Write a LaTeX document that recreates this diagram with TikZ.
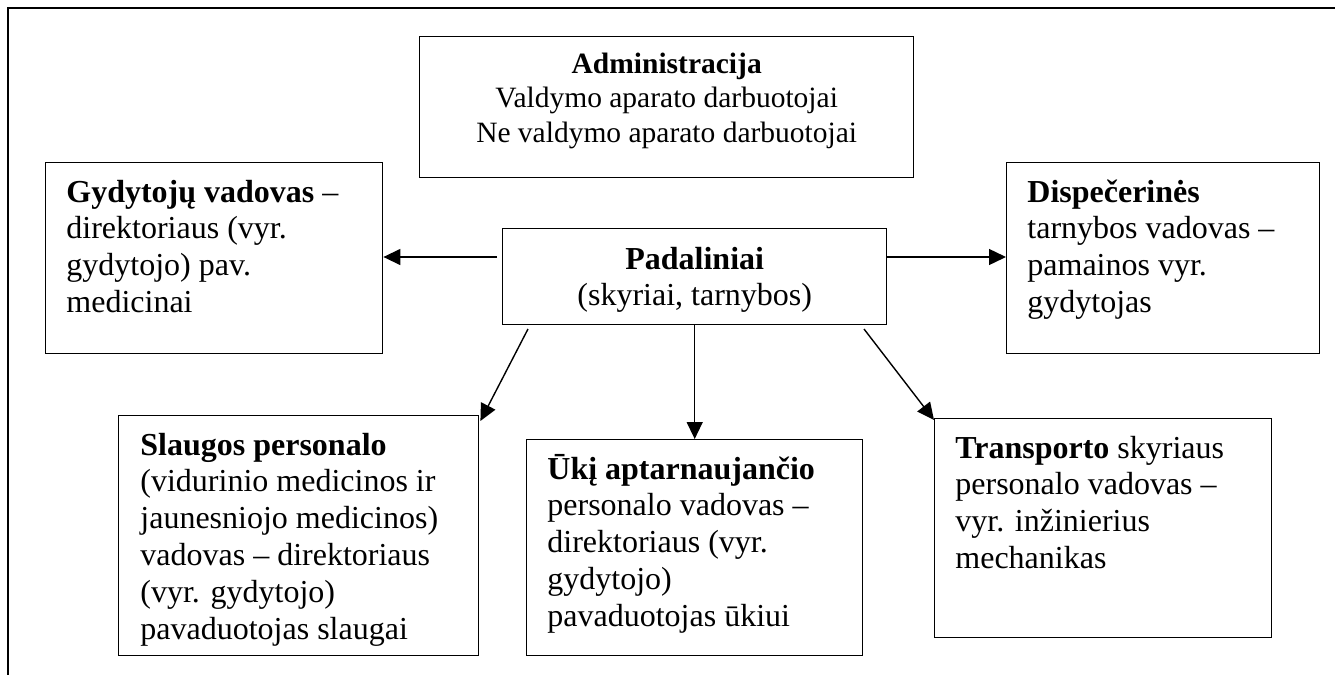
\documentclass[tikz,border=0pt]{standalone}
\usepackage{fontspec}
\setmainfont{Liberation Serif}
\usetikzlibrary{arrows.meta}

\tikzset{
  box/.style={draw,line width=0.7pt,anchor=north west,inner sep=0pt},
  txt/.style={inner sep=0pt,font=\fontsize{16pt}{18.4pt}\selectfont},
  smalltxt/.style={inner sep=0pt,font=\fontsize{14.75pt}{17.3pt}\selectfont},
  arr/.style={line width=0.7pt,-{Triangle[length=8.5pt,width=8pt]}}
}

\begin{document}
\begin{tikzpicture}[x=0.5pt,y=-0.5pt]
\useasboundingbox (0,0) rectangle (1335,675);

% frame
\draw[line width=1.2pt] (1335,8) -- (8,8) -- (8,675);

\node[box,minimum width=247pt,minimum height=70.5pt] (adm) at (419,36) {};
\node[box,minimum width=168.5pt,minimum height=95.5pt] (gyd) at (45,162) {};
\node[box,minimum width=192pt,minimum height=48pt] (pad) at (502,228) {};
\node[box,minimum width=156.5pt,minimum height=95.5pt] (disp) at (1006,162) {};
\node[box,minimum width=180pt,minimum height=120pt] (slaug) at (118,415) {};
\node[box,minimum width=168pt,minimum height=108pt] (ukio) at (526,439) {};
\node[box,minimum width=168.5pt,minimum height=109.5pt] (transp) at (934,418) {};

\node[smalltxt,anchor=base] (admtxt) at ([shift={(0,37)}]adm.north)
  {\parbox[t]{240pt}{\centering\textbf{Administracija}\\ Valdymo aparato darbuotojai\\ Ne valdymo aparato darbuotojai}};
\node[txt,anchor=base] (padtxt) at ([shift={(0,41)}]pad.north)
  {\parbox[t]{185pt}{\centering\textbf{Padaliniai}\\ (skyriai, tarnybos)}};
\node[txt,anchor=base west] (gydtxt) at ([shift={(21,40)}]gyd.north west)
  {\parbox[t]{160pt}{\raggedright\textbf{Gydytojų vadovas} –\\ direktoriaus (vyr.\\ gydytojo) pav.\\ medicinai}};
\node[txt,anchor=base west] (disptxt) at ([shift={(21,40)}]disp.north west)
  {\parbox[t]{150pt}{\raggedright\textbf{Dispečerinės}\\ tarnybos vadovas –\\ pamainos vyr.\\ gydytojas}};
\node[txt,anchor=base west] (slaugtxt) at ([shift={(22,40)}]slaug.north west)
  {\parbox[t]{175pt}{\raggedright\textbf{Slaugos personalo}\\ (vidurinio medicinos ir\\ jaunesniojo medicinos)\\ vadovas – direktoriaus\\ (vyr. gydytojo)\\ pavaduotojas slaugai}};
\node[txt,anchor=base west] (ukiotxt) at ([shift={(21,40)}]ukio.north west)
  {\parbox[t]{160pt}{\raggedright\textbf{Ūkį aptarnaujančio}\\ personalo vadovas –\\ direktoriaus (vyr.\\ gydytojo)\\ pavaduotojas ūkiui}};
\node[txt,anchor=base west] (transptxt) at ([shift={(21,40)}]transp.north west)
  {\parbox[t]{160pt}{\raggedright\textbf{Transporto} skyriaus\\ personalo vadovas –\\ vyr. inžinierius\\ mechanikas}};

% arrows
\coordinate (padL) at (497,257);
\coordinate (padSL) at (528,329);
\coordinate (padSR) at (864,329);
\draw[arr] (padL) -- (gyd.east |- padL);
\draw[arr] (pad.east |- padL) -- (disp.west |- padL);
\draw[arr] (padSL) -- ([shift={(1,6)}]slaug.north east);
\draw[arr] (pad.south) -- (ukio.north);
\draw[arr] (padSR) -- ([shift={(0,2)}]transp.north west);
\end{tikzpicture}
\end{document}
